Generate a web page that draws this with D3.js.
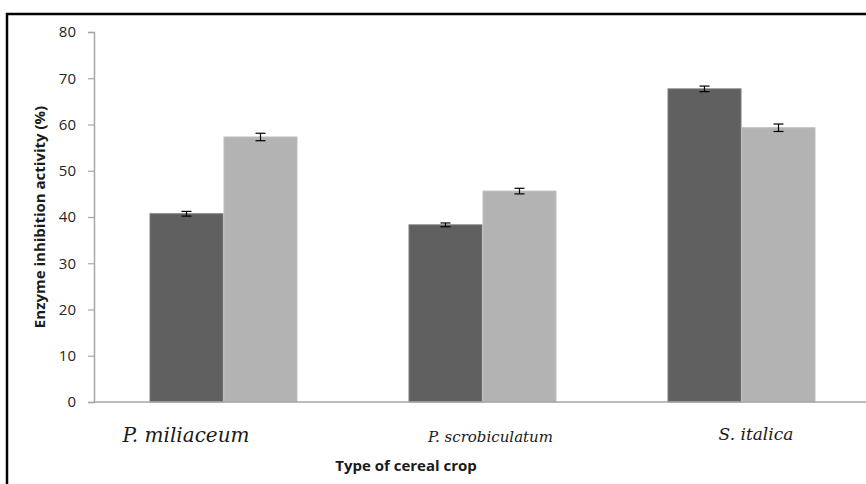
<!DOCTYPE html>
<html>
<head>
<meta charset="utf-8">
<script src="https://cdn.jsdelivr.net/npm/d3@7"></script>
<style>
  body { margin: 0; background: #fff; overflow: hidden; }
  svg { display: block; }
</style>
</head>
<body>
<div id="chart"></div>
<script>
(function(){
"use strict";

// chart values
var crops = ["P. miliaceum", "P. scrobiculatum", "S. italica"];
var seriesNames = ["A", "B"];
var darkValues = [40.7, 38.3, 67.7];
var lightValues = [57.3, 45.6, 59.3];
var darkErrors = [0.4, 0.3, 0.5];
var lightErrors = [0.7, 0.5, 0.7];
var yTicks = [0, 10, 20, 30, 40, 50, 60, 70, 80];

// the category labels were hand placed text boxes in the original
var labelNudge = [-37.5, 8, 14.5];
var labelSize = [20, 15, 17];

var width = 866, height = 484;
var margin = { left: 94, top: 32, bottom: 82 };

var svg = d3.select("#chart").append("svg")
    .attr("width", width)
    .attr("height", height);

// frame (only left and top edges show in the crop)
svg.append("path")
    .attr("d", "M7,484V14H866")
    .attr("fill", "none")
    .attr("stroke", "#000")
    .attr("stroke-width", 2.5);

var y = d3.scaleLinear()
    .domain([0, 80])
    .range([height - margin.bottom, margin.top]);

var x0 = d3.scaleBand()
    .domain(crops)
    .range([margin.left, margin.left + 777])
    .paddingInner(111 / 259)
    .paddingOuter(111 / 259 / 2);

var x1 = d3.scaleBand()
    .domain(seriesNames)
    .range([0, x0.bandwidth()]);

var colors = { A: "#606060", B: "#b3b3b3" };
var strokes = { A: "#7a7a7a", B: "#bdbdbd" };

// y axis
var yAxis = svg.append("g")
    .attr("transform", "translate(" + margin.left + ",0)")
    .call(d3.axisLeft(y).tickValues(yTicks).tickSize(6).tickPadding(12));
yAxis.select(".domain").attr("stroke", "#a6a6a6").attr("stroke-width", 1.5);
yAxis.selectAll(".tick line").attr("stroke", "#a6a6a6").attr("stroke-width", 1.2);
yAxis.selectAll(".tick text")
    .style("font-family", "'Open Sans', sans-serif")
    .style("font-size", "15px")
    .style("fill", "#262626");

var rows = crops.map(function(c, i){
    return [
        { crop: c, s: "A", v: darkValues[i], e: darkErrors[i] },
        { crop: c, s: "B", v: lightValues[i], e: lightErrors[i] }
    ];
});

var groups = svg.selectAll("g.group")
    .data(rows)
    .enter().append("g")
    .attr("class", "group")
    .attr("transform", function(d){ return "translate(" + x0(d[0].crop) + ",0)"; });

groups.selectAll("rect")
    .data(function(d){ return d; })
    .enter().append("rect")
    .attr("x", function(d){ return x1(d.s) + 0.5; })
    .attr("y", function(d){ return y(d.v); })
    .attr("width", x1.bandwidth() - 1)
    .attr("height", function(d){ return y(0) - y(d.v); })
    .attr("fill", function(d){ return colors[d.s]; })
    .attr("stroke", function(d){ return strokes[d.s]; })
    .attr("stroke-width", 1);

// error bars
var err = groups.selectAll("g.err")
    .data(function(d){ return d; })
    .enter().append("g")
    .attr("class", "err")
    .attr("stroke", "#000")
    .attr("stroke-width", 1.2);

var cx = function(d){ return x1(d.s) + x1.bandwidth() / 2; };
var top = function(d){ return y(d.v + d.e) - 0.5; };
var bot = function(d){ return y(d.v - d.e) + 0.5; };

err.append("line")
    .attr("x1", cx).attr("x2", cx)
    .attr("y1", top).attr("y2", bot);

[top, bot].forEach(function(fy){
    err.append("line")
        .attr("x1", function(d){ return cx(d) - 5; })
        .attr("x2", function(d){ return cx(d) + 5; })
        .attr("y1", fy)
        .attr("y2", fy);
});

// x axis line
svg.append("line")
    .attr("x1", margin.left)
    .attr("x2", width)
    .attr("y1", y(0))
    .attr("y2", y(0))
    .attr("stroke", "#a6a6a6")
    .attr("stroke-width", 1.5);

// category labels
svg.selectAll("text.cat")
    .data(crops)
    .enter().append("text")
    .attr("class", "cat")
    .attr("x", function(d, i){ return x0(d) + x0.bandwidth() / 2 + labelNudge[i]; })
    .attr("y", function(d, i){ return i === 2 ? 440 : 442; })
    .attr("text-anchor", "middle")
    .style("font-family", "'DejaVu Serif', serif")
    .style("font-style", "italic")
    .style("font-size", function(d, i){ return labelSize[i] + "px"; })
    .style("fill", "#1a1a1a")
    .text(function(d){ return d; });

// axis titles
svg.append("text")
    .attr("x", 406)
    .attr("y", 471)
    .attr("text-anchor", "middle")
    .style("font-family", "'Open Sans', sans-serif")
    .style("font-weight", "bold")
    .style("font-size", "15px")
    .style("fill", "#1a1a1a")
    .text("Type of cereal crop");

svg.append("text")
    .attr("transform", "translate(45," + y(40) + ") rotate(-90)")
    .attr("text-anchor", "middle")
    .style("font-family", "'Open Sans', sans-serif")
    .style("font-weight", "bold")
    .style("font-size", "15px")
    .style("fill", "#1a1a1a")
    .text("Enzyme inhibition activity (%)");

})();
</script>
</body>
</html>
